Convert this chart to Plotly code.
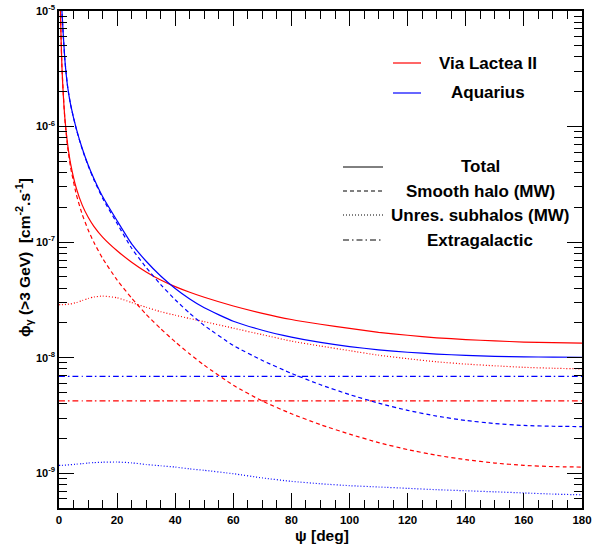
import plotly.graph_objects as go
import math

# ---------------- data ----------------
psi_deg = [0, 0.5, 1, 2, 3, 4, 6, 8, 10, 12, 15, 20, 25, 30, 35, 40, 45, 50,
           60, 70, 80, 90, 100, 110, 120, 130, 140, 150, 160, 170, 180]

# Via Lactea II
vl2_total = [1e-4, 9.75e-6, 3.33e-6, 1.2e-6, 6.9e-7, 4.76e-7, 2.9e-7, 2.09e-7, 1.65e-7,
             1.37e-7, 1.106e-7, 8.42e-8, 6.7e-8, 5.52e-8, 4.7e-8, 4.12e-8, 3.68e-8,
             3.33e-8, 2.8e-8, 2.42e-8, 2.14e-8, 1.946e-8, 1.79e-8, 1.657e-8, 1.563e-8,
             1.486e-8, 1.434e-8, 1.396e-8, 1.365e-8, 1.347e-8, 1.336e-8]
vl2_smooth = [1e-4, 9.7e-6, 3.3e-6, 1.17e-6, 6.57e-7, 4.42e-7, 2.56e-7, 1.735e-7, 1.28e-7,
              9.95e-8, 7.23e-8, 4.7e-8, 3.28e-8, 2.37e-8, 1.78e-8, 1.37e-8, 1.076e-8,
              8.59e-9, 5.77e-9, 4.21e-9, 3.27e-9, 2.63e-9, 2.18e-9, 1.84e-9, 1.6e-9,
              1.43e-9, 1.31e-9, 1.225e-9, 1.17e-9, 1.14e-9, 1.13e-9]
vl2_subhalos = [2.87e-8, 2.87e-8, 2.87e-8, 2.88e-8, 2.9e-8, 2.92e-8, 3.0e-8, 3.12e-8,
                3.25e-8, 3.35e-8, 3.41e-8, 3.3e-8, 3.0e-8, 2.73e-8, 2.5e-8, 2.33e-8,
                2.18e-8, 2.05e-8, 1.8e-8, 1.58e-8, 1.39e-8, 1.26e-8, 1.15e-8, 1.05e-8,
                9.8e-9, 9.2e-9, 8.8e-9, 8.5e-9, 8.25e-9, 8.1e-9, 8.0e-9]
vl2_extragal = [4.23e-9] * len(psi_deg)

# Aquarius
aq_total = [1e-4, 2.5e-5, 1.01e-5, 3.84e-6, 2.18e-6, 1.55e-6, 9.5e-7, 6.45e-7, 4.68e-7,
            3.55e-7, 2.48e-7, 1.53e-7, 9.66e-8, 6.83e-8, 5.09e-8, 3.97e-8, 3.22e-8,
            2.7e-8, 2.065e-8, 1.727e-8, 1.506e-8, 1.354e-8, 1.247e-8, 1.17e-8, 1.114e-8,
            1.074e-8, 1.047e-8, 1.028e-8, 1.017e-8, 1.011e-8, 1.008e-8]
aq_smooth = [1e-4, 2.5e-5, 1.0e-5, 3.83e-6, 2.17e-6, 1.54e-6, 9.4e-7, 6.37e-7, 4.6e-7,
             3.47e-7, 2.4e-7, 1.45e-7, 8.85e-8, 6.03e-8, 4.29e-8, 3.17e-8, 2.42e-8,
             1.9e-8, 1.276e-8, 9.46e-9, 7.31e-9, 5.83e-9, 4.79e-9, 4.04e-9, 3.5e-9,
             3.12e-9, 2.86e-9, 2.69e-9, 2.59e-9, 2.55e-9, 2.53e-9]
aq_subhalos = [1.17e-9, 1.17e-9, 1.17e-9, 1.175e-9, 1.18e-9, 1.185e-9, 1.2e-9, 1.21e-9,
               1.225e-9, 1.235e-9, 1.245e-9, 1.25e-9, 1.23e-9, 1.19e-9, 1.16e-9, 1.13e-9,
               1.09e-9, 1.06e-9, 9.9e-10, 9.1e-10, 8.5e-10, 8.1e-10, 7.8e-10, 7.6e-10,
               7.4e-10, 7.2e-10, 7.05e-10, 6.9e-10, 6.75e-10, 6.6e-10, 6.5e-10]
aq_extragal = [6.9e-9] * len(psi_deg)

x_tickvals = [0, 20, 40, 60, 80, 100, 120, 140, 160, 180]
y_tickvals = [1e-9, 1e-8, 1e-7, 1e-6, 1e-5]
y_ticktext = ["10<sup>-9</sup>", "10<sup>-8</sup>", "10<sup>-7</sup>",
              "10<sup>-6</sup>", "10<sup>-5</sup>"]

sim_names = ["Via Lactea II", "Aquarius"]
component_names = ["Total", "Smooth halo (MW)", "Unres. subhalos (MW)", "Extragalactic"]

# ---------------- styling ----------------
RED = "#ff0000"
BLUE = "#0000ff"
DASH = {"Total": "solid", "Smooth halo (MW)": "4px,3px",
        "Unres. subhalos (MW)": "1px,2px", "Extragalactic": "6px,3px,1.5px,3px"}
FONT = "Liberation Sans, Arial, Helvetica, sans-serif"
LW = 1.2

fig = go.Figure()
series = [
    (vl2_total, RED, "Total"), (vl2_smooth, RED, "Smooth halo (MW)"),
    (vl2_subhalos, RED, "Unres. subhalos (MW)"), (vl2_extragal, RED, "Extragalactic"),
    (aq_total, BLUE, "Total"), (aq_smooth, BLUE, "Smooth halo (MW)"),
    (aq_subhalos, BLUE, "Unres. subhalos (MW)"), (aq_extragal, BLUE, "Extragalactic"),
]
for vals, col, comp in series:
    fig.add_trace(go.Scatter(x=psi_deg, y=vals, mode="lines",
                             line=dict(color=col, width=LW, dash=DASH[comp],
                                       shape="spline", smoothing=0.5),
                             showlegend=False, hoverinfo="skip"))

# plot-area geometry (pixels)
W, H = 595, 545
L, R, T, B = 59, 13, 11, 37
PW, PH = W - L - R, H - T - B


def px(xp):
    return (xp - L) / PW


def py(yp):
    return (H - B - yp) / PH


shapes = []
annotations = []
# legend 1: simulations
for name, col, yy in [(sim_names[0], RED, 63), (sim_names[1], BLUE, 93)]:
    shapes.append(dict(type="line", xref="paper", yref="paper",
                       x0=px(393), x1=px(421), y0=py(yy), y1=py(yy),
                       line=dict(color=col, width=LW)))
    annotations.append(dict(text=name, xref="paper", yref="paper", x=px(488), y=py(yy),
                            xanchor="center", yanchor="middle", showarrow=False,
                            font=dict(family=FONT, size=17, color="black", weight="bold")))
# legend 2: components
for comp, yy in zip(component_names, [167, 191, 215, 240]):
    shapes.append(dict(type="line", xref="paper", yref="paper",
                       x0=px(343), x1=px(383), y0=py(yy), y1=py(yy),
                       line=dict(color="black", width=1, dash=DASH[comp])))
    annotations.append(dict(text=comp, xref="paper", yref="paper", x=px(480), y=py(yy),
                            xanchor="center", yanchor="middle", showarrow=False,
                            font=dict(family=FONT, size=17, color="black", weight="bold")))
# y-axis title
annotations.append(dict(text="\u03d5<sub>\u03b3</sub> (>3 GeV)  [cm<sup>-2</sup>.s<sup>-1</sup>]",
                        xref="paper", yref="paper", x=px(24), y=py(258),
                        xanchor="center", yanchor="middle", textangle=-90, showarrow=False,
                        font=dict(family=FONT, size=15.5, color="black", weight="bold")))
# x-axis title
annotations.append(dict(text="\u03c8 [deg]", xref="paper", yref="paper",
                        x=px(322), y=py(535), xanchor="center", yanchor="middle",
                        showarrow=False,
                        font=dict(family=FONT, size=15.5, color="black", weight="bold")))

fig.update_layout(
    width=W, height=H,
    margin=dict(l=L, r=R, t=T, b=B, pad=0),
    paper_bgcolor="white", plot_bgcolor="white",
    shapes=shapes, annotations=annotations,
    showlegend=False,
    xaxis=dict(range=[0, 180], tickvals=x_tickvals, ticks="inside", ticklen=15,
               tickwidth=1, tickcolor="black", showline=True, linecolor="black",
               linewidth=1.5, mirror="allticks", showgrid=False, zeroline=False,
               automargin=False,
               tickfont=dict(family=FONT, size=11.5, color="black", weight="bold"),
               minor=dict(dtick=5, ticks="inside", ticklen=8, tickwidth=1,
                          tickcolor="black", showgrid=False)),
    yaxis=dict(type="log", range=[math.log10(5e-10), -5], tickvals=y_tickvals,
               ticktext=y_ticktext, ticks="inside", ticklen=15, tickwidth=1,
               tickcolor="black", showline=True, linecolor="black", linewidth=1.5,
               mirror="allticks", showgrid=False, zeroline=False, automargin=False,
               tickfont=dict(family=FONT, size=11, color="black", weight="bold"),
               minor=dict(dtick="D1", ticks="inside", ticklen=8, tickwidth=1,
                          tickcolor="black", showgrid=False)),
)

fig.write_html("out.html", config={"displayModeBar": False},
               post_script="document.documentElement.style.background='#ffffff';"
                           "document.body.style.margin='0px';"
                           "document.body.style.overflow='hidden';"
                           "var d=document.getElementById('{plot_id}');"
                           "d.style.position='fixed';d.style.left='0px';d.style.top='0px';")
